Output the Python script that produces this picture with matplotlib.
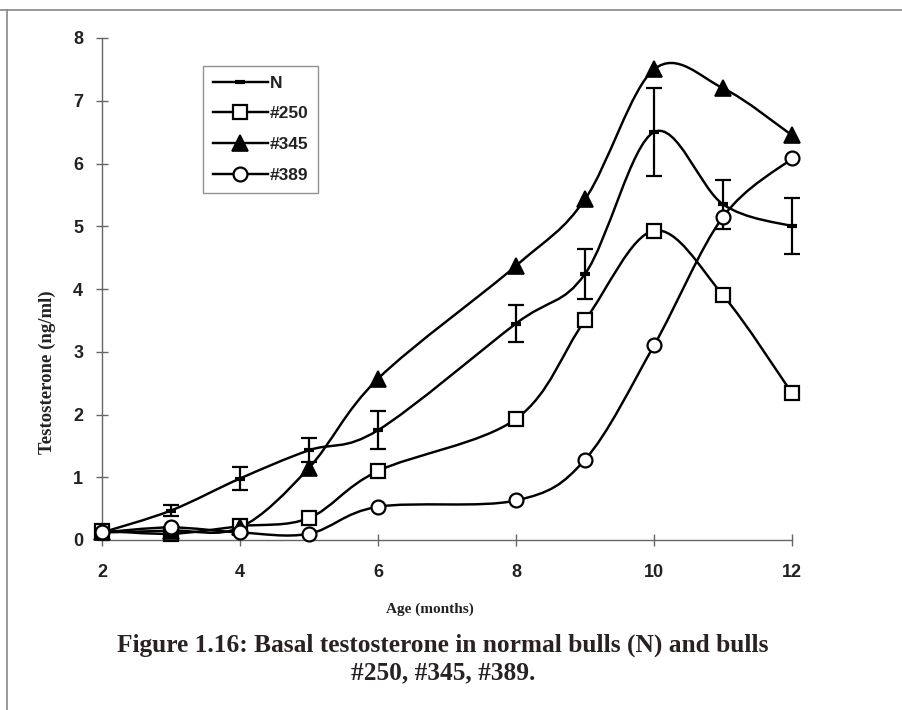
import numpy as np
import matplotlib
matplotlib.use('Agg')
import matplotlib.pyplot as plt
from matplotlib.path import Path
from matplotlib.patches import PathPatch
from matplotlib.lines import Line2D

# Возраст (мес.) и тестостерон (нг/мл)
months = [2, 3, 4, 5, 6, 8, 9, 10, 11, 12]
n_mean = [0.12, 0.47, 0.98, 1.43, 1.75, 3.45, 4.24, 6.50, 5.35, 5.00]
n_err = [0.03, 0.09, 0.19, 0.19, 0.30, 0.30, 0.40, 0.70, 0.39, 0.45]
bull_250 = [0.15, 0.10, 0.22, 0.35, 1.10, 1.93, 3.50, 4.93, 3.90, 2.34]
bull_345 = [0.12, 0.15, 0.20, 1.15, 2.57, 4.37, 5.43, 7.50, 7.20, 6.45]
bull_389 = [0.12, 0.20, 0.12, 0.10, 0.53, 0.63, 1.28, 3.10, 5.15, 6.08]

x_ticks = [2, 4, 6, 8, 10, 12]
y_ticks = [0, 1, 2, 3, 4, 5, 6, 7, 8]


def smooth_path(x, y):
    # сглаженная линия как в Excel: кубические Безье через все точки
    x = np.asarray(x, float)
    y = np.asarray(y, float)
    pts = np.column_stack([x, y])
    verts = [pts[0]]
    codes = [Path.MOVETO]
    n = len(pts)
    for i in range(n - 1):
        p0 = pts[i - 1] if i > 0 else pts[i]
        p1 = pts[i]
        p2 = pts[i + 1]
        p3 = pts[i + 2] if i + 2 < n else pts[i + 1]
        c1 = p1 + (p2 - p0) / 6.0
        c2 = p2 - (p3 - p1) / 6.0
        verts += [c1, c2, p2]
        codes += [Path.CURVE4] * 3
    return Path(verts, codes)


fig = plt.figure(figsize=(9.03, 7.10), dpi=100)
ax = fig.add_axes([102 / 903, 1 - 540 / 710, 690 / 903, 502 / 710])

lw = 1.75
series = [
    (n_mean, dict(marker='_', ms=7, mew=3, mfc='black')),
    (bull_250, dict(marker='s', ms=10, mew=1.6, mfc='white')),
    (bull_345, dict(marker='^', ms=11, mew=1.2, mfc='black')),
    (bull_389, dict(marker='o', ms=10, mew=1.6, mfc='white')),
]

for vals, _ in series:
    ax.add_patch(PathPatch(smooth_path(months, vals), fill=False, edgecolor='black',
                           lw=lw, transform=ax.transData, clip_on=False, zorder=2))

# усы погрешности для нормальных быков
ax.errorbar(months[1:], n_mean[1:], yerr=n_err[1:], fmt='none', ecolor='black',
            elinewidth=1.6, capsize=5.5, capthick=1.6, clip_on=False, zorder=3)

handles = []
for vals, st in series:
    ax.plot(months, vals, linestyle='none', color='black', mec='black',
            clip_on=False, zorder=4, **st)
    handles.append(Line2D([], [], color='black', lw=lw, mec='black', **st))

ax.set_xlim(2, 12)
ax.set_ylim(0, 8)
ax.set_xticks(x_ticks)
ax.set_yticks(y_ticks)
for s in ['top', 'right']:
    ax.spines[s].set_visible(False)
for s in ['left', 'bottom']:
    ax.spines[s].set_color('#666666')
    ax.spines[s].set_linewidth(1.0)
ax.tick_params(direction='inout', length=9, width=1.0, color='#666666', labelsize=13)
ax.tick_params(axis='x', pad=13)
ax.tick_params(axis='y', pad=9)
for lab in ax.get_xticklabels() + ax.get_yticklabels():
    lab.set_fontfamily('Liberation Sans')
    lab.set_fontweight('bold')
    lab.set_color('#222222')

ax.set_xlabel('Age (months)', family='Liberation Serif', fontweight='bold',
              fontsize=11, color='#222222')
ax.xaxis.set_label_coords((430 - 102) / 690, -(603 - 540) / 502)
ax.set_ylabel('Testosterone (ng/ml)', family='Liberation Serif', fontweight='bold',
              fontsize=13.5, color='#222222')
ax.yaxis.set_label_coords(-(102 - 56) / 690, (540 - 372) / 502)

leg = ax.legend(handles, ['N', '#250', '#345', '#389'], loc='upper left',
                bbox_to_anchor=(203 / 903, 1 - 66 / 710), bbox_transform=fig.transFigure,
                prop={'family': 'Liberation Sans', 'size': 12.5, 'weight': 'bold'},
                frameon=True, fancybox=False, handlelength=3.2, handletextpad=0.1,
                labelspacing=0.9, borderpad=0.55, borderaxespad=0)
leg.get_frame().set_edgecolor('#777777')
leg.get_frame().set_linewidth(1.0)
for t in leg.get_texts():
    t.set_color('#222222')

# подпись рисунка
cap_style = dict(ha='center', va='center', family='Liberation Serif', fontweight='bold',
                 fontsize=18.3, color='#2a2222')
fig.text(443 / 903, 1 - 645 / 710,
         'Figure 1.16: Basal testosterone in normal bulls (N) and bulls', **cap_style)
fig.text(443 / 903, 1 - 673 / 710, '#250, #345, #389.', **cap_style)

# рамка страницы
fig.add_artist(Line2D([0, 1], [1 - 10 / 710, 1 - 10 / 710], color='#888888', lw=1.2))
fig.add_artist(Line2D([7 / 903, 7 / 903], [0, 1 - 10 / 710], color='#888888', lw=1.2))

fig.savefig('out.png', dpi=100)
